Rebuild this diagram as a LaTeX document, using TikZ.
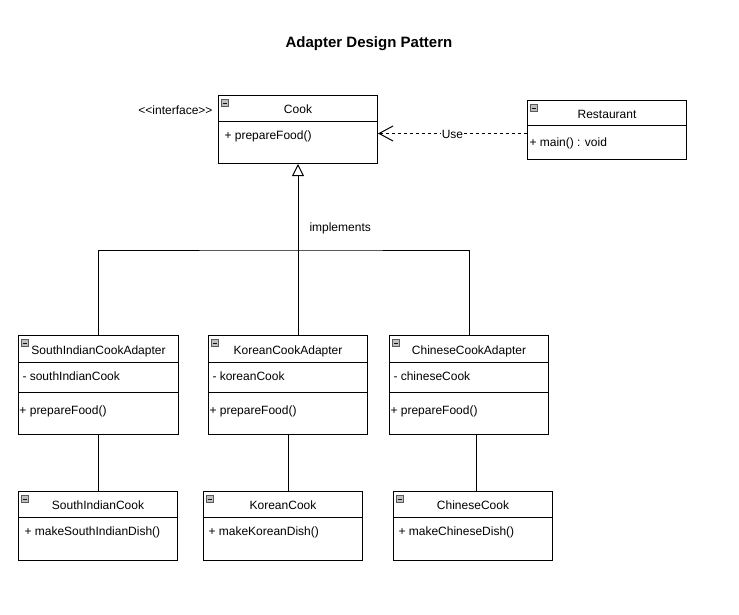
\documentclass[tikz,border=0pt]{standalone}
\usepackage{fontspec}
\newfontfamily\umlfont{Liberation Sans}
\usetikzlibrary{arrows.meta}

\tikzset{
  classbox/.style={draw, line width=1pt, anchor=north west, inner sep=0pt},
  headtext/.style={inner sep=0pt, font=\umlfont\fontsize{12}{14}\selectfont, text height=12pt, text depth=1pt},
  member/.style={headtext, anchor=west},
  usetag/.style={headtext, fill=white, inner sep=0.5pt, text height=11pt, text depth=0pt},
  fold/.style={draw=gray!70!black, fill=gray!50, line width=0.6pt, minimum size=7pt, inner sep=0pt,
    path picture={\draw[gray!15!black, line width=0.9pt] ([xshift=1.2pt]path picture bounding box.west) -- ([xshift=-1.2pt]path picture bounding box.east);}},
}

\begin{document}
\begin{tikzpicture}[x=1pt, y=-1pt, line width=1pt]
        \useasboundingbox (0,0) rectangle (739,615);
        % title
        \node[font=\umlfont\bfseries\fontsize{15}{18}\selectfont] (heading) at (369,44) {Adapter Design Pattern};
        % interface
        \node[classbox, minimum width=159pt, minimum height=68pt] (cook) at (218,95) {};
        \draw ([yshift=-27pt]cook.north west) -- ([yshift=-27pt]cook.north east);
        \node[headtext] (cookname) at ([yshift=-13.5pt]cook.north) {Cook};
        \node[member] (cookop) at ([xshift=6pt,yshift=-39pt]cook.north west) {+ prepareFood()};
        \node[member, anchor=east] (cookstereo) at ([xshift=-5pt,yshift=-14pt]cook.north west) {<<interface>>};
        % client
        \node[classbox, minimum width=159pt, minimum height=59pt] (rest) at (527,100) {};
        \draw ([yshift=-26pt]rest.north west) -- ([yshift=-26pt]rest.north east);
        \node[headtext] (restname) at ([yshift=-13pt]rest.north) {Restaurant};
        \node[member] (restop) at ([xshift=2pt,yshift=-41pt]rest.north west) {+ main() : void};
        % adapters
        \node[classbox, minimum width=160pt, minimum height=99pt] (sia) at (18,335) {};
        \draw ([yshift=-27pt]sia.north west) -- ([yshift=-27pt]sia.north east);
        \draw ([yshift=-57pt]sia.north west) -- ([yshift=-57pt]sia.north east);
        \node[headtext] (sianame) at ([yshift=-13.5pt]sia.north) {SouthIndianCookAdapter};
        \node[member] (siaattr) at ([xshift=4pt,yshift=-40pt]sia.north west) {- southIndianCook};
        \node[member] (siaop) at ([xshift=1pt,yshift=-74pt]sia.north west) {+ prepareFood()};
        \node[classbox, minimum width=159pt, minimum height=99pt] (kca) at (208,335) {};
        \draw ([yshift=-27pt]kca.north west) -- ([yshift=-27pt]kca.north east);
        \draw ([yshift=-57pt]kca.north west) -- ([yshift=-57pt]kca.north east);
        \node[headtext] (kcaname) at ([yshift=-13.5pt]kca.north) {KoreanCookAdapter};
        \node[member] (kcaattr) at ([xshift=4pt,yshift=-40pt]kca.north west) {- koreanCook};
        \node[member] (kcaop) at ([xshift=1pt,yshift=-74pt]kca.north west) {+ prepareFood()};
        \node[classbox, minimum width=159pt, minimum height=99pt] (cca) at (389,335) {};
        \draw ([yshift=-27pt]cca.north west) -- ([yshift=-27pt]cca.north east);
        \draw ([yshift=-57pt]cca.north west) -- ([yshift=-57pt]cca.north east);
        \node[headtext] (ccaname) at ([yshift=-13.5pt]cca.north) {ChineseCookAdapter};
        \node[member] (ccaattr) at ([xshift=4pt,yshift=-40pt]cca.north west) {- chineseCook};
        \node[member] (ccaop) at ([xshift=1pt,yshift=-74pt]cca.north west) {+ prepareFood()};
        % adaptees
        \node[classbox, minimum width=159pt, minimum height=69pt] (sic) at (18,491) {};
        \draw ([yshift=-26pt]sic.north west) -- ([yshift=-26pt]sic.north east);
        \node[headtext] (sicname) at ([yshift=-13pt]sic.north) {SouthIndianCook};
        \node[member] (sicop) at ([xshift=6pt,yshift=-39pt]sic.north west) {+ makeSouthIndianDish()};
        \node[classbox, minimum width=159pt, minimum height=69pt] (kc) at (203,491) {};
        \draw ([yshift=-26pt]kc.north west) -- ([yshift=-26pt]kc.north east);
        \node[headtext] (kcname) at ([yshift=-13pt]kc.north) {KoreanCook};
        \node[member] (kcop) at ([xshift=5pt,yshift=-39pt]kc.north west) {+ makeKoreanDish()};
        \node[classbox, minimum width=159pt, minimum height=69pt] (cc) at (393,491) {};
        \draw ([yshift=-26pt]cc.north west) -- ([yshift=-26pt]cc.north east);
        \node[headtext] (ccname) at ([yshift=-13pt]cc.north) {ChineseCook};
        \node[member] (ccop) at ([xshift=5pt,yshift=-39pt]cc.north west) {+ makeChineseDish()};
        % collapse icons
        \foreach \bx in {cook,rest,sia,kca,cca,sic,kc,cc}
          \node[fold] (\bx-fold) at ([shift={(7pt,-8pt)}]\bx.north west) {};
        % use
        \draw[dash pattern=on 3pt off 3pt, -{Straight Barb[length=14pt,width=15pt]}] ([yshift=-3.5pt]rest.west) -- node[usetag] (uselbl) {Use} ([yshift=-3.5pt]rest.west -| cook.east);
        % implements
        \coordinate (hub) at (298,250);
        \draw[-{Triangle[open,length=12pt,width=12pt]}] (hub) -- (hub |- cook.south);
        \draw (sia.north) |- (hub) -| (cca.north);
        \draw (hub) -- (hub |- kca.north);
        \node[member] (impl) at (309,226) {implements};
        % wraps
        \draw (sia.south) -- (sia.south |- sic.north);
        \draw (kca.south) -- (kca.south |- kc.north);
        \draw ([xshift=7.5pt]cca.south) -- ([xshift=7.5pt]cca.south |- cc.north);
\end{tikzpicture}
\end{document}
